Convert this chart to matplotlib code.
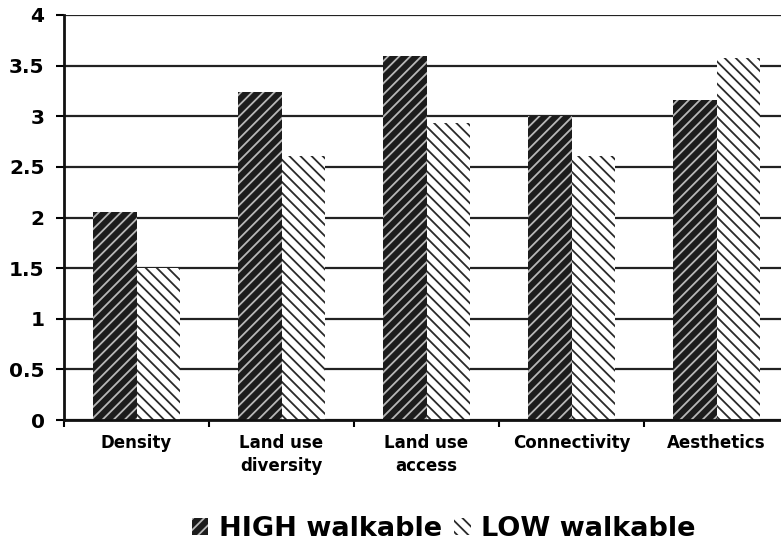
import matplotlib
matplotlib.use("Agg")
import matplotlib.pyplot as plt
from matplotlib.patches import Patch
import numpy as np

categories = ["Density", "Land use\ndiversity", "Land use\naccess", "Connectivity", "Aesthetics"]
high_walkable = [2.05, 3.24, 3.60, 3.00, 3.16]
low_walkable = [1.50, 2.61, 2.93, 2.61, 3.58]
y_ticks = [0, 0.5, 1, 1.5, 2, 2.5, 3, 3.5, 4]
y_tick_labels = ["0", "0.5", "1", "1.5", "2", "2.5", "3", "3.5", "4"]

plt.rcParams["font.family"] = ["DejaVu Sans"]
plt.rcParams["hatch.linewidth"] = 1.3

W, H = 781, 543
fig = plt.figure(figsize=(W / 100, H / 100), dpi=100)
ax = fig.add_axes([64 / W, 123 / H, (789 - 64) / W, (420 - 15) / H])

x = np.arange(len(categories))
bw = 0.3
high_style = dict(facecolor="#1c1c1c", edgecolor="#b8b8b8", hatch="///", linewidth=0)
low_style = dict(facecolor="white", edgecolor="#2a2a2a", hatch="\\\\\\", linewidth=0)
ax.bar(x - bw / 2, high_walkable, bw, zorder=3, **high_style)
ax.bar(x + bw / 2, low_walkable, bw, zorder=3, **low_style)

ax.set_xlim(-0.5, len(categories) - 0.5)
ax.set_ylim(0, 4)
ax.set_yticks(y_ticks)
ax.set_yticklabels(y_tick_labels, fontsize=14.5, fontweight="bold")
ax.set_xticks(x)
ax.set_xticklabels(categories, fontsize=12, fontweight="bold", linespacing=1.4)
ax.set_xticks(np.arange(-0.5, len(categories) + 0.5, 1), minor=True)
ax.tick_params(axis="x", which="major", length=0, pad=10)
ax.tick_params(axis="x", which="minor", length=5, width=1.5, direction="out")
ax.tick_params(axis="y", length=6, width=1.5, direction="out", pad=8)

ax.yaxis.grid(True, color="#222222", linewidth=1.6, zorder=1)
ax.set_axisbelow(True)
for s in ["top", "right"]:
    ax.spines[s].set_visible(False)
for s in ["left", "bottom"]:
    ax.spines[s].set_linewidth(2)
    ax.spines[s].set_color("#111111")
    ax.spines[s].set_zorder(4)

handles = [Patch(label="HIGH walkable", **high_style),
           Patch(label="LOW walkable", **low_style)]
fig.legend(handles=handles, loc="center", bbox_to_anchor=(444 / W, 1 - 529 / H),
           ncol=2, frameon=False, prop=dict(size=19.5, weight="bold"),
           handlelength=0.6, handleheight=0.6, handletextpad=0.4, columnspacing=0.45,
           borderpad=0.1)

fig.savefig("out.png", dpi=100)
